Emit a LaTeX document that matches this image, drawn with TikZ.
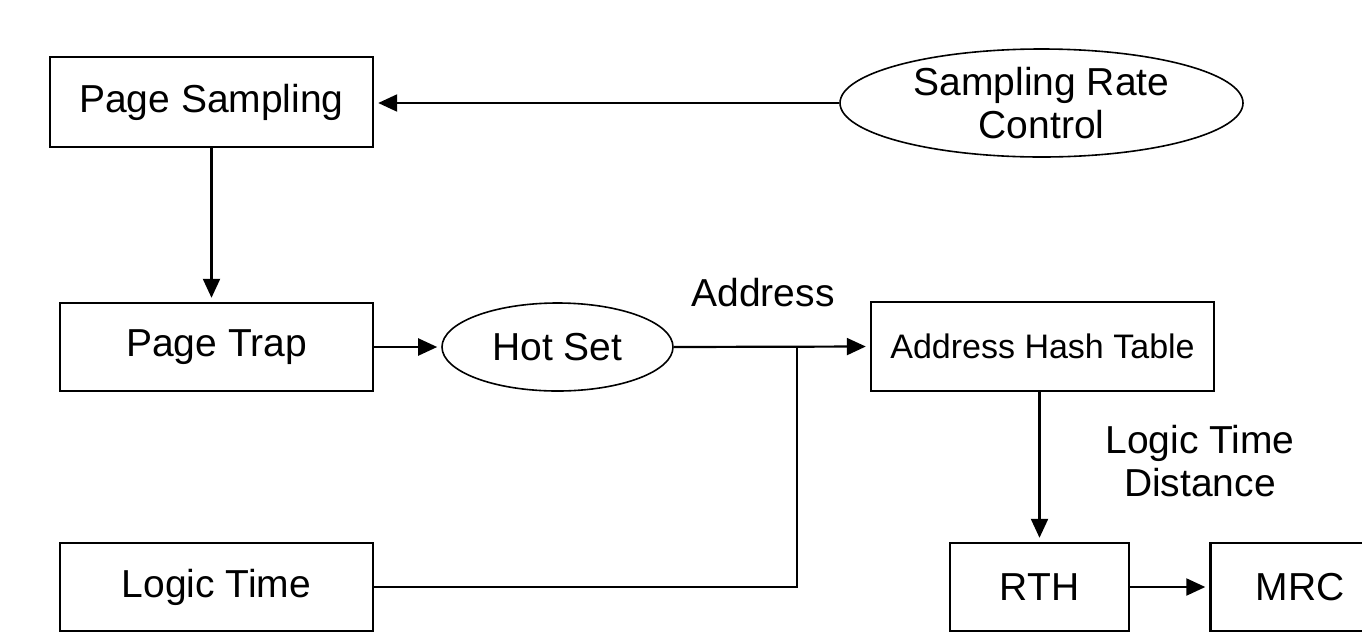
\documentclass[tikz,border=0pt]{standalone}
\usepackage{fontspec}
\setmainfont{Liberation Sans}
\usetikzlibrary{shapes.geometric,arrows.meta}
\begin{document}
\begin{tikzpicture}[x=1pt,y=-1pt,
  lbl/.style={font=\fontsize{39}{43}\selectfont, align=center, inner sep=0pt},
  blk/.style={lbl, draw, line width=2.4pt, minimum width=#1, minimum height=88pt},
  oval/.style={lbl, draw, ellipse, line width=1.6pt},
  arr/.style={line width=2.2pt, -{Triangle[length=19pt,width=17pt]}, shorten >=4pt},
  wire/.style={line width=2.2pt}]
\useasboundingbox (0,0) rectangle (1362,638);
\clip (0,0) rectangle (1362,638);

% processing blocks
\node[blk=323pt, minimum height=90pt] (ps) at (211.5,102) {Page Sampling};
\node[blk=313pt] (pt) at (216.5,347) {Page Trap};
\node[blk=313pt] (lt) at (216.5,587) {Logic Time};
\node[blk=343pt, minimum height=89pt, font=\fontsize{34}{40}\selectfont] (aht) at (1042.5,346.5) {Address Hash Table};
\node[blk=179pt] (rth) at (1039.5,587) {RTH};
\node[blk=179pt] (mrc) at (1300,587) {MRC};

% data sets / controls
\node[oval, minimum width=403pt, minimum height=108pt] (src) at (1041.5,103) {Sampling Rate\\Control};
\node[oval, minimum width=231pt, minimum height=88pt] (hs) at (557.5,347) {Hot Set};

% edge labels
\node[lbl] (addr) at (763,293) {Address};
\node[lbl] (ltd) at (1200,461) {Logic Time\\Distance};

% junction where the logic time joins the address stream
\coordinate (j) at (797,347);

% connectors
\draw[arr] (src.west) -- (src.west -| ps.east);
\draw[arr] (ps.south) -- (ps.south |- pt.north);
\draw[arr] (pt.east) -- (hs.west);
\draw[arr] (hs.east) -- (aht.west);
\draw[wire] (lt.east) -| (j);
\draw[arr] (aht.south -| rth.north) -- (rth.north);
\draw[arr] (rth.east) -- (mrc.west);
\end{tikzpicture}
\end{document}
